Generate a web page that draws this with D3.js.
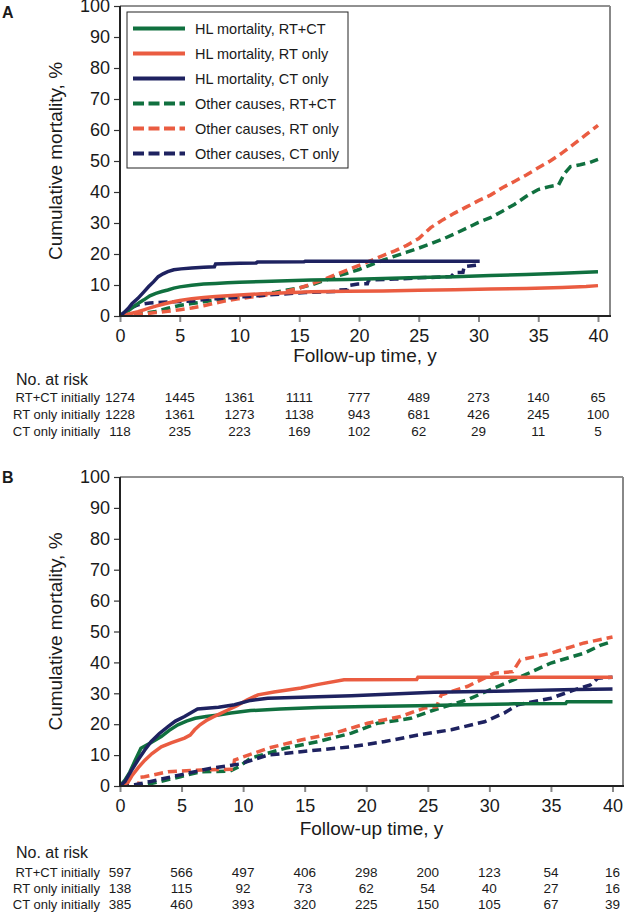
<!DOCTYPE html>
<html>
<head>
<meta charset="utf-8">
<script src="https://cdn.jsdelivr.net/npm/d3@7"></script>
<style>
  body { margin: 0; background: #fff; }
  svg { display: block; font-family: "Liberation Sans", Arial, sans-serif; }
</style>
</head>
<body>
<svg id="chart" width="625" height="913"></svg>
<script>
// ===========================
// Cumulative mortality curves, two panels (A, B)
// HL mortality (solid) and other causes (dashed) by initial treatment
// ===========================

// ── Data: panel A, [time in years, cumulative %] ─────────────────────────
const aHlRtCt = [[0,0],[0.4,1.0],[0.8,2.0],[1.2,3.2],[1.6,4.3],[2.0,5.2],[2.5,6.5],[3.0,7.3],[3.5,7.9],[4.0,8.4],[4.5,9.0],[5.0,9.4],[6.0,9.9],[7.0,10.3],[8.0,10.5],[9.0,10.7],[10.0,10.9],[12.0,11.1],[14.0,11.4],[16.0,11.6],[19.0,11.8],[22.0,12.1],[25.0,12.4],[28.0,12.7],[31.0,13.1],[34.0,13.4],[37.0,13.8],[39.0,14.1],[40.0,14.3]];
const aHlRtOnly = [[0,0],[0.5,0.4],[1,0.9],[1.5,1.4],[2,2.0],[2.5,2.6],[3,3.2],[3.5,3.7],[4,4.2],[4.5,4.6],[5,5.0],[6,5.6],[7,6.0],[8,6.3],[10,6.8],[12,7.2],[14,7.5],[16,7.8],[19,8.0],[22,8.1],[25,8.3],[28,8.5],[31,8.7],[34,8.9],[37,9.2],[39,9.5],[40,9.8]];
const aHlCtOnly = [[0,0],[0.3,1.0],[0.7,2.5],[1.0,4.0],[1.5,5.7],[2.0,7.8],[2.4,9.5],[2.8,11.0],[3.2,12.7],[3.6,13.6],[4.0,14.3],[4.5,14.9],[5.1,15.2],[6.0,15.5],[7.0,15.7],[7.9,15.9],[8.0,16.8],[10.0,17.0],[11.4,17.1],[11.5,17.4],[15.4,17.5],[15.5,17.7],[30.1,17.7]];
const aOthRtCt = [[0,0],[1,0.3],[2,0.8],[3,1.5],[4,2.5],[5,3.4],[6,4.0],[7,4.6],[8,5.2],[9,5.6],[10,6.1],[11,6.6],[12,7.1],[13,7.7],[14,8.4],[15,9.1],[16,10.0],[17,11.3],[18,12.7],[19,13.8],[20,15.0],[21,16.5],[22,18.0],[23,19.3],[24,20.6],[25,21.9],[26,23.3],[27,24.8],[28,26.5],[29,28.3],[30,30.2],[31,31.7],[32,33.8],[33,36.0],[34,38.6],[35,40.8],[36,41.8],[36.7,42.3],[37.2,46.0],[37.7,48.2],[38.5,48.8],[39.3,49.5],[40,50.5]];
const aOthRtOnly = [[0,0],[1,0.3],[2,0.7],[3,1.1],[4,1.5],[5,2.0],[6,2.6],[7,3.3],[8,4.2],[9,5.0],[10,5.6],[11,6.1],[12,6.6],[13,7.3],[14,8.1],[15,9.0],[16,10.3],[17,11.7],[18,13.3],[19,14.8],[20,16.3],[21,17.9],[22,19.5],[23,21.0],[24,22.8],[25,25.0],[26,28.5],[27,31.0],[28,33.2],[29,35.2],[30,37.2],[31,39.0],[32,41.4],[33,43.4],[34,45.5],[35,47.8],[36,50.0],[37,52.6],[38,55.5],[39,58.5],[40,61.5]];
const aOthCtOnly = [[0,0],[0.5,1.5],[1.0,2.8],[1.5,3.6],[2.5,4.2],[4,4.5],[6,4.8],[7,5.3],[8,5.6],[9.6,6.0],[11,6.4],[12.4,6.8],[14,7.2],[15.5,7.6],[17.4,7.8],[18.1,7.9],[18.2,8.4],[19.0,8.5],[19.1,9.8],[19.9,10.3],[20.7,10.4],[20.8,11.6],[23,11.9],[25,12.3],[27.7,12.7],[28.0,14.0],[28.7,14.1],[28.8,15.9],[29.8,16.4]];

// ── Data: panel B ─────────────────────────────────────────────────────────
const bHlRtCt = [[0,0],[0.4,1.9],[0.8,4.5],[1.2,8.0],[1.7,12.2],[2.5,14.0],[3.35,16.0],[4.0,18.0],[4.7,19.8],[5.4,21.0],[6.1,21.9],[7.0,22.5],[8.0,23.0],[9.0,23.6],[10.6,24.4],[13,24.9],[16.1,25.4],[20,25.7],[24.2,26.0],[28,26.3],[32,26.6],[36.2,26.7],[36.3,27.3],[40,27.3]];
const bHlRtOnly = [[0,0],[0.65,1.2],[1.0,3.5],[1.5,6.0],[2.0,8.3],[2.6,10.5],[3.35,12.7],[4.2,14.0],[5.24,15.5],[5.7,16.5],[6.06,18.2],[6.5,19.8],[7.1,21.4],[7.8,22.8],[8.76,24.6],[9.5,26.0],[10.3,27.8],[11.2,29.5],[12.5,30.4],[14.7,31.7],[16,32.8],[18.2,34.4],[24.1,34.5],[24.2,35.2],[40,35.2]];
const bHlCtOnly = [[0,0],[0.4,1.4],[0.9,4.8],[1.46,8.4],[2.0,11.6],[2.54,14.4],[3.2,17.0],[3.9,19.2],[4.5,21.0],[5.24,22.5],[5.8,23.8],[6.3,24.9],[8.0,25.5],[9.3,26.3],[10.6,27.7],[12.0,28.4],[18.8,29.2],[25.5,30.3],[32.3,30.8],[37,31.2],[40,31.4]];
const bOthRtCt = [[0,0],[1.6,0],[3.2,1.4],[4.9,3.0],[6.5,4.6],[8.9,4.8],[9.7,6.3],[10.6,9.0],[13.4,12.2],[16.1,14.4],[18.8,17.1],[20.9,20.3],[23.6,21.9],[25.5,24.6],[28.2,27.9],[30.4,31.7],[32.3,34.9],[35,39.8],[37.7,43.0],[39,45.5],[40,46.8]];
const bOthRtOnly = [[0,0],[1.5,0],[1.6,2.8],[2.0,3.0],[3.9,4.6],[6.6,5.2],[9.2,5.4],[9.3,8.4],[12,12.2],[14.7,14.9],[17.4,17.1],[20.1,20.3],[22.8,22.5],[24.7,25.2],[25.7,25.6],[26.1,29.5],[28.2,32.2],[30.4,36.5],[31.9,37.0],[32.5,40.8],[35,43.0],[37.7,46.3],[40,48.2]];
const bOthCtOnly = [[0,0],[1.2,0.4],[2.4,1.4],[4.9,3.6],[7.3,5.7],[9.7,7.1],[12,10.0],[14.7,11.1],[16.5,11.8],[18.8,12.7],[21.5,14.4],[24.2,16.5],[26.9,18.2],[29.6,20.8],[31.2,23.6],[32.3,26.3],[35,28.4],[36.9,31.1],[38.2,32.7],[38.8,34.9],[40,35.2]];

// ── Number at risk ────────────────────────────────────────────────────────
const riskTimes = [0, 5, 10, 15, 20, 25, 30, 35, 40];
const riskLabels = ['RT+CT initially', 'RT only initially', 'CT only initially'];
const aRiskRtCt = [1274, 1445, 1361, 1111, 777, 489, 273, 140, 65];
const aRiskRtOnly = [1228, 1361, 1273, 1138, 943, 681, 426, 245, 100];
const aRiskCtOnly = [118, 235, 223, 169, 102, 62, 29, 11, 5];
const bRiskRtCt = [597, 566, 497, 406, 298, 200, 123, 54, 16];
const bRiskRtOnly = [138, 115, 92, 73, 62, 54, 40, 27, 16];
const bRiskCtOnly = [385, 460, 393, 320, 225, 150, 105, 67, 39];

// ── Ticks and legend ──────────────────────────────────────────────────────
const yTicks = [0, 10, 20, 30, 40, 50, 60, 70, 80, 90, 100];
const xTicks = [0, 5, 10, 15, 20, 25, 30, 35, 40];
const seriesNames = ['HL mortality, RT+CT', 'HL mortality, RT only', 'HL mortality, CT only',
                     'Other causes, RT+CT', 'Other causes, RT only', 'Other causes, CT only'];

const GREEN = '#10703f', ORANGE = '#ea5c41', NAVY = '#1e2260';
const styles = [
    { color: GREEN,  dash: null }, { color: ORANGE, dash: null }, { color: NAVY, dash: null },
    { color: GREEN,  dash: '9,5' }, { color: ORANGE, dash: '9,5' }, { color: NAVY, dash: '9,5' }
];

const panels = [
    {
        letter: 'A', letterY: 18,
        top: 6, bottom: 316, left: 120, x40: 598, right: 610,
        series: [aHlRtCt, aHlRtOnly, aHlCtOnly, aOthRtCt, aOthRtOnly, aOthCtOnly],
        risk: [aRiskRtCt, aRiskRtOnly, aRiskCtOnly],
        titleY: 362, headY: 385, rowY: [402, 419, 436],
        legend: true
    },
    {
        letter: 'B', letterY: 483,
        top: 477, bottom: 786, left: 120, x40: 612.5, right: 623,
        series: [bHlRtCt, bHlRtOnly, bHlCtOnly, bOthRtCt, bOthRtOnly, bOthCtOnly],
        risk: [bRiskRtCt, bRiskRtOnly, bRiskCtOnly],
        titleY: 835, headY: 858, rowY: [877, 893, 909],
        legend: false
    }
];

const svg = d3.select('#chart');
const TEXT = '#1a1a1a';

panels.forEach(function (p, pi) {
    const x = d3.scaleLinear().domain([0, 40]).range([p.left, p.x40]);
    const y = d3.scaleLinear().domain([0, 100]).range([p.bottom, p.top]);
    const g = svg.append('g');

    // panel letter
    g.append('text')
        .attr('x', 2).attr('y', p.letterY)
        .style('font-size', '16px').style('font-weight', '700').style('fill', TEXT)
        .text(p.letter);

    // clip
    g.append('clipPath').attr('id', 'clip' + pi)
        .append('rect')
        .attr('x', p.left).attr('y', p.top - 4)
        .attr('width', p.right - p.left).attr('height', p.bottom - p.top + 4);

    // ── Curves ───────────────────────────────────────────────────────────
    const line = d3.line()
        .x(d => x(d[0])).y(d => y(d[1]));

    const order = [3, 4, 5, 0, 1, 2];
    order.forEach(function (i) {
        g.append('path')
            .datum(p.series[i])
            .attr('clip-path', 'url(#clip' + pi + ')')
            .attr('fill', 'none')
            .attr('stroke', styles[i].color)
            .attr('stroke-width', 3.5)
            .attr('stroke-dasharray', styles[i].dash)
            .attr('d', line);
    });

    // ── Frame ────────────────────────────────────────────────────────────
    g.append('line')
        .attr('x1', p.left).attr('x2', p.right).attr('y1', p.top).attr('y2', p.top)
        .attr('stroke', '#222').attr('stroke-width', 1);
    g.append('line')
        .attr('x1', p.right).attr('x2', p.right).attr('y1', p.top).attr('y2', p.bottom)
        .attr('stroke', '#888').attr('stroke-width', 2);

    // ── Axes ─────────────────────────────────────────────────────────────
    const yAxis = g.append('g')
        .attr('transform', 'translate(' + p.left + ',0)')
        .call(d3.axisLeft(y).tickValues(yTicks).tickSize(6).tickSizeOuter(0).tickPadding(4));
    yAxis.select('.domain').remove();
    yAxis.selectAll('line').attr('stroke', '#333').attr('stroke-width', 1.2);
    yAxis.selectAll('text').style('font-size', '18px').style('fill', TEXT)
        .style('font-family', '"Liberation Sans", Arial, sans-serif');

    const xAxis = g.append('g')
        .attr('transform', 'translate(0,' + p.bottom + ')')
        .call(d3.axisBottom(x).tickValues(xTicks).tickSize(6).tickSizeOuter(0).tickPadding(7));
    xAxis.select('.domain').remove();
    xAxis.selectAll('line').attr('stroke', '#888').attr('stroke-width', 2);
    xAxis.selectAll('text').style('font-size', '18px').style('fill', TEXT)
        .style('font-family', '"Liberation Sans", Arial, sans-serif');

    g.append('line')
        .attr('x1', p.left).attr('x2', p.left).attr('y1', p.top).attr('y2', p.bottom + 1)
        .attr('stroke', '#222').attr('stroke-width', 2);
    g.append('line')
        .attr('x1', p.left).attr('x2', p.right + 1).attr('y1', p.bottom).attr('y2', p.bottom)
        .attr('stroke', '#222').attr('stroke-width', 2);

    // axis titles
    g.append('text')
        .attr('transform', 'rotate(-90)')
        .attr('x', -(p.top + p.bottom) / 2).attr('y', 62)
        .attr('text-anchor', 'middle')
        .style('font-size', '19px').style('fill', TEXT)
        .text('Cumulative mortality, %');

    g.append('text')
        .attr('x', (p.left + p.right) / 2).attr('y', p.titleY)
        .attr('text-anchor', 'middle')
        .style('font-size', '19px').style('fill', TEXT)
        .text('Follow-up time, y');

    // ── Risk table ───────────────────────────────────────────────────────
    g.append('text')
        .attr('x', 16).attr('y', p.headY)
        .style('font-size', '16px').style('fill', TEXT)
        .text('No. at risk');

    p.risk.forEach(function (row, ri) {
        g.append('text')
            .attr('x', 100).attr('y', p.rowY[ri])
            .attr('text-anchor', 'end')
            .style('font-size', '13px').style('fill', TEXT)
            .text(riskLabels[ri]);
        g.selectAll('.risk' + ri)
            .data(row)
            .join('text')
            .attr('x', (d, k) => x(riskTimes[k]))
            .attr('y', p.rowY[ri])
            .attr('text-anchor', 'middle')
            .style('font-size', '13.5px').style('fill', TEXT)
            .text(d => d);
    });

    // ── Legend (panel A only) ────────────────────────────────────────────
    if (p.legend) {
        const lg = g.append('g');
        lg.append('rect')
            .attr('x', 127).attr('y', 12).attr('width', 221).attr('height', 156)
            .attr('fill', '#fff').attr('stroke', '#222').attr('stroke-width', 1);
        seriesNames.forEach(function (name, i) {
            const cy = 28.5 + i * 25;
            lg.append('line')
                .attr('x1', 133).attr('x2', 185).attr('y1', cy).attr('y2', cy)
                .attr('stroke', styles[i].color).attr('stroke-width', 4)
                .attr('stroke-dasharray', styles[i].dash ? '11,4.5' : null);
            lg.append('text')
                .attr('x', 195).attr('y', cy).attr('dy', '0.36em')
                .style('font-size', '14.5px').style('fill', TEXT)
                .text(name);
        });
    }
});
</script>
</body>
</html>
